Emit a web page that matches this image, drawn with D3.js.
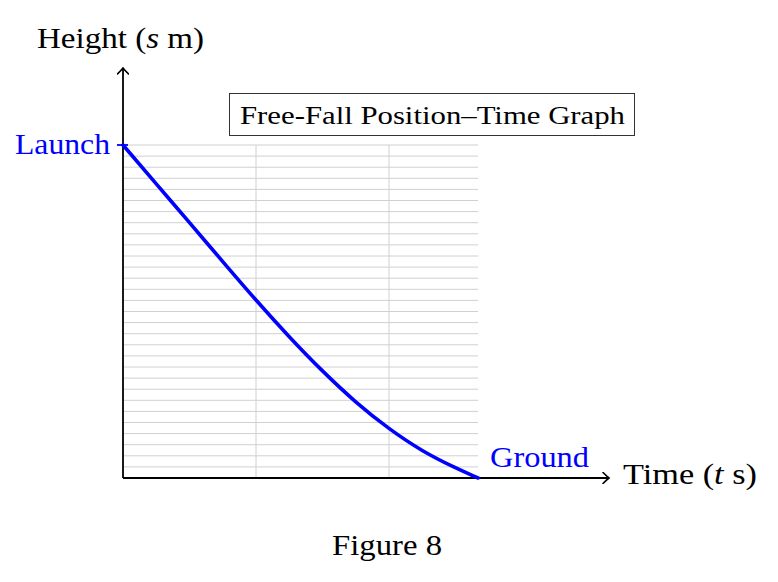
<!DOCTYPE html>
<html>
<head>
<meta charset="utf-8">
<script src="https://cdn.jsdelivr.net/npm/d3@7"></script>
<style>
  html, body { margin: 0; padding: 0; background: #fff; }
  svg { display: block; }
  text { font-family: "Liberation Serif", "Times New Roman", Times, serif; }
</style>
</head>
<body>
<svg width="778" height="582"></svg>
<script>
// Time (s) and height (grid units)
const timeS = [0, 0.25, 0.5, 0.75, 1, 1.25, 1.5, 1.75, 2, 2.25, 2.5, 2.67];
const heightM = [30, 26.5, 23.0, 19.5, 16.0, 12.7, 9.6, 6.8, 4.4, 2.4, 0.9, 0];

// Grid ticks
const timeGrid = [1, 2];
const heightGrid = d3.range(0, 31, 1);

const tEnd = 2.67;
const sTop = 30;

const svg = d3.select("svg");

// Scales: one time unit = 133px, one height unit ~ 11.1px
const x = d3.scaleLinear().domain([0, 1]).range([123, 256]);
const y = d3.scaleLinear().domain([0, sTop]).range([478, 145]);

// Open arrow marker like TikZ "->"
svg.append("defs").append("marker")
  .attr("id", "arrow")
  .attr("viewBox", "-8 -6 10 12")
  .attr("refX", 0)
  .attr("refY", 0)
  .attr("markerWidth", 10)
  .attr("markerHeight", 12)
  .attr("markerUnits", "userSpaceOnUse")
  .attr("orient", "auto")
  .append("path")
  .attr("d", "M-6,-5.5 Q-2,-1.5 0,0 Q-2,1.5 -6,5.5")
  .attr("fill", "none")
  .attr("stroke", "#000")
  .attr("stroke-width", 1.6)
  .attr("stroke-linecap", "round");

// Grid
const grid = svg.append("g").attr("stroke", "#d0d0d0").attr("stroke-width", 1);
grid.selectAll(".hgrid")
  .data(heightGrid)
  .enter()
  .append("line")
  .attr("x1", x(0))
  .attr("x2", x(tEnd))
  .attr("y1", d => y(d))
  .attr("y2", d => y(d));
grid.selectAll(".vgrid")
  .data(timeGrid)
  .enter()
  .append("line")
  .attr("x1", d => x(d))
  .attr("x2", d => x(d))
  .attr("y1", y(0))
  .attr("y2", y(sTop));

// Axes
svg.append("line")
  .attr("x1", x(0)).attr("y1", y(0))
  .attr("x2", 609).attr("y2", y(0))
  .attr("stroke", "#000").attr("stroke-width", 1.8)
  .attr("marker-end", "url(#arrow)");
svg.append("line")
  .attr("x1", x(0)).attr("y1", y(0))
  .attr("x2", x(0)).attr("y2", 68)
  .attr("stroke", "#000").attr("stroke-width", 1.8)
  .attr("marker-end", "url(#arrow)");

// Launch tick
svg.append("line")
  .attr("x1", x(0) - 6).attr("x2", x(0) + 5)
  .attr("y1", y(sTop)).attr("y2", y(sTop))
  .attr("stroke", "blue").attr("stroke-width", 1.8);

// Position curve
const line = d3.line()
  .x((d, i) => x(timeS[i]))
  .y(d => y(d))
  .curve(d3.curveBasis);

svg.append("path")
  .datum(heightM)
  .attr("d", line)
  .attr("fill", "none")
  .attr("stroke", "blue")
  .attr("stroke-width", 3.6)
  .attr("stroke-linecap", "round");

// Title box
svg.append("rect")
  .attr("x", 229.5).attr("y", 93.5)
  .attr("width", 405).attr("height", 42)
  .attr("fill", "#fff")
  .attr("stroke", "#333").attr("stroke-width", 1);

svg.append("text")
  .attr("x", 240).attr("y", 124)
  .attr("font-size", 25)
  .attr("textLength", 385)
  .attr("lengthAdjust", "spacingAndGlyphs")
  .text("Free-Fall Position–Time Graph");

// Axis labels
const yLab = svg.append("text")
  .attr("x", 37).attr("y", 48)
  .attr("font-size", 30)
  .attr("textLength", 167)
  .attr("lengthAdjust", "spacingAndGlyphs");
yLab.append("tspan").text("Height (");
yLab.append("tspan").attr("font-style", "italic").text("s");
yLab.append("tspan").text(" m)");

const xLab = svg.append("text")
  .attr("x", 623).attr("y", 484)
  .attr("font-size", 30)
  .attr("textLength", 134)
  .attr("lengthAdjust", "spacingAndGlyphs");
xLab.append("tspan").text("Time (");
xLab.append("tspan").attr("font-style", "italic").text("t");
xLab.append("tspan").text(" s)");

// Point labels
svg.append("text")
  .attr("x", 15).attr("y", 154)
  .attr("font-size", 30)
  .attr("fill", "blue")
  .attr("textLength", 95)
  .attr("lengthAdjust", "spacingAndGlyphs")
  .text("Launch");

svg.append("text")
  .attr("x", 490).attr("y", 467)
  .attr("font-size", 30)
  .attr("fill", "blue")
  .attr("textLength", 99)
  .attr("lengthAdjust", "spacingAndGlyphs")
  .text("Ground");

// Caption
svg.append("text")
  .attr("x", 332).attr("y", 555)
  .attr("font-size", 30)
  .attr("textLength", 110)
  .attr("lengthAdjust", "spacingAndGlyphs")
  .text("Figure 8");
</script>
</body>
</html>
